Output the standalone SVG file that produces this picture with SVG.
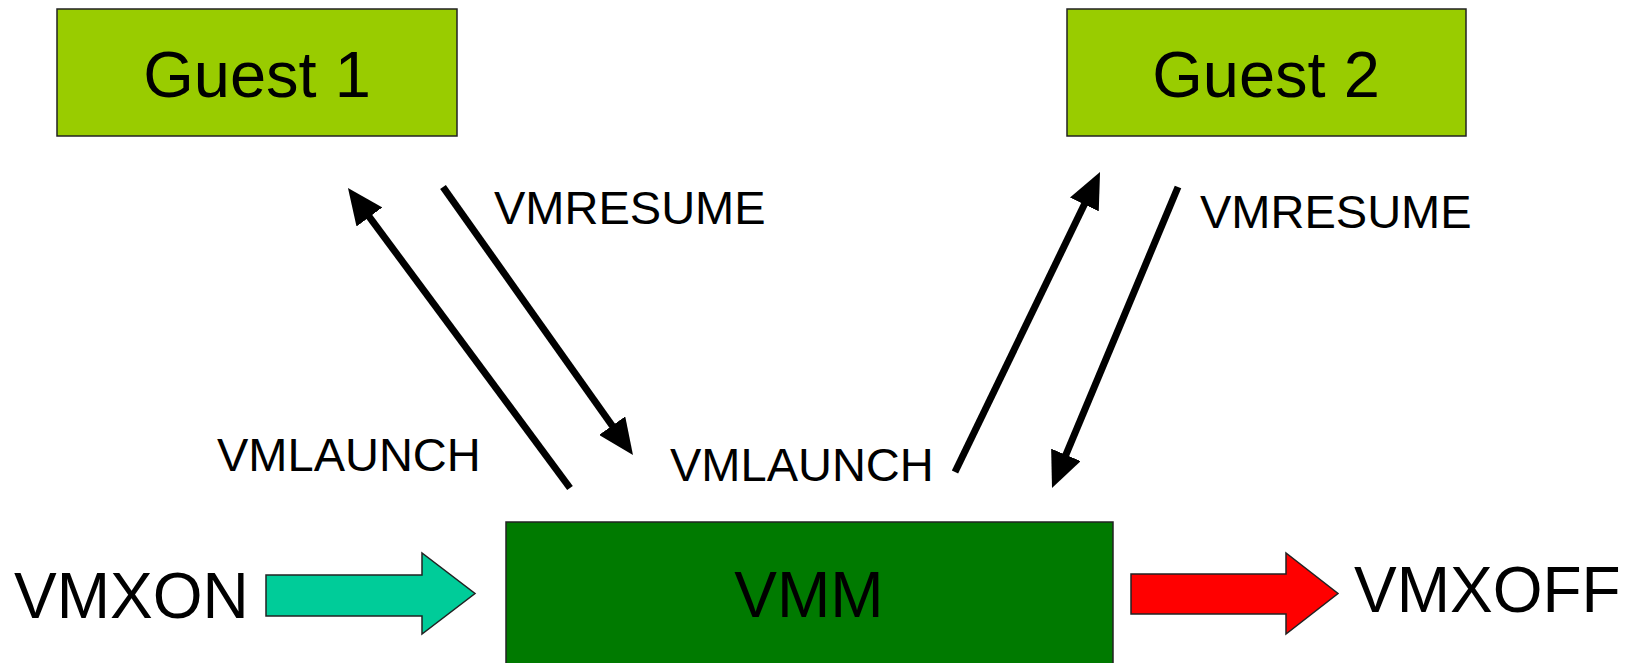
<svg xmlns="http://www.w3.org/2000/svg" width="1626" height="663" viewBox="0 0 1626 663">
<style>
  .guest { fill: #99CC00; stroke: #222; stroke-width: 1.5; }
  .vmm { fill: #007A00; stroke: #222; stroke-width: 1.5; }
  .big { font-family: "Liberation Sans", Arial, sans-serif; font-size: 64px; fill: #000; }
  .lbl { font-family: "Liberation Sans", Arial, sans-serif; font-size: 47px; fill: #000; }
  .conn { stroke: #000; stroke-width: 7; fill: none; marker-end: url(#head); }
  .block { stroke: #222; stroke-width: 1.5; }
</style>
<defs>
  <marker id="head" viewBox="0 0 36 32" markerWidth="36" markerHeight="32" markerUnits="userSpaceOnUse" refX="21" refY="16" orient="auto">
    <path d="M0,0 L36,16 L0,32 Z" fill="#000"/>
  </marker>
</defs>
<rect width="1626" height="663" fill="#fff"/>
<g id="guest1">
  <rect class="guest" x="57" y="9" width="400" height="127"/>
  <text class="big" x="257" y="97" text-anchor="middle" style="font-size:65px">Guest 1</text>
</g>
<g id="guest2">
  <rect class="guest" x="1067" y="9" width="399" height="127"/>
  <text class="big" x="1266" y="97" text-anchor="middle" style="font-size:65px">Guest 2</text>
</g>
<g id="vmm">
  <rect class="vmm" x="506" y="522" width="607" height="150"/>
  <text class="big" x="809" y="617" text-anchor="middle">VMM</text>
</g>
<g id="vmxon">
  <text class="big" x="14" y="618">VMXON</text>
  <polygon class="block" fill="#00CC99" points="266,575 422,575 422,553 475,593.5 422,634 422,616 266,616"/>
</g>
<g id="vmxoff">
  <polygon class="block" fill="#FF0000" points="1131,574 1286,574 1286,553 1338,593.5 1286,634 1286,614 1131,614"/>
  <text class="big" x="1354" y="612">VMXOFF</text>
</g>
<g id="connectors">
  <line class="conn" x1="570" y1="488" x2="356.9" y2="200.1"/>
  <line class="conn" x1="443" y1="187" x2="624.3" y2="442.8"/>
  <line class="conn" x1="955" y1="472" x2="1093.5" y2="185.5"/>
  <line class="conn" x1="1178" y1="187" x2="1057.8" y2="474.2"/>
</g>
<g id="labels">
  <text class="lbl" x="217" y="471">VMLAUNCH</text>
  <text class="lbl" x="670" y="481">VMLAUNCH</text>
  <text class="lbl" x="494" y="224">VMRESUME</text>
  <text class="lbl" x="1200" y="228">VMRESUME</text>
</g>
</svg>
